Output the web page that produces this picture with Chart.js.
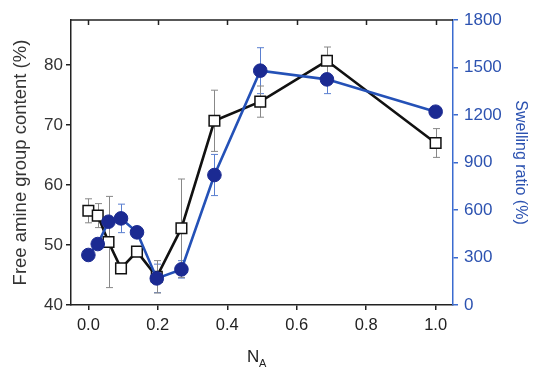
<!DOCTYPE html>
<html><head><meta charset="utf-8">
<script src="https://cdn.jsdelivr.net/npm/chart.js@4/dist/chart.umd.min.js"></script>
<style>html,body{margin:0;padding:0;background:#fff;}#wrap{width:536px;height:367px;position:relative;}</style>
</head><body><div id="wrap"><canvas id="c" width="536" height="367"></canvas></div>
<script>
// N_A values (x)
const NA = [0, 0.027, 0.058, 0.094, 0.14, 0.197, 0.268, 0.363, 0.495, 0.687, 1.0];
// Free amine group content (%) with error
const amine = [55.7, 54.9, 50.5, 46.1, 48.9, 44.7, 52.8, 70.7, 73.9, 80.7, 67.0];
const amineErr = [2.0, 2.0, 7.6, 0.4, 0.4, 2.7, 8.2, 5.1, 2.6, 2.3, 2.4];
// Swelling ratio (%) with error
const swelling = [316, 385, 526, 547, 459, 168, 225, 821, 1480, 1425, 1221];
const swellingErr = [0, 0, 0, 90, 0, 90, 55, 130, 145, 90, 0];
// tick labels
const xTicks = [0, 0.2, 0.4, 0.6, 0.8, 1.0];
const leftTicks = [40, 50, 60, 70, 80];
const rightTicks = [0, 300, 600, 900, 1200, 1500, 1800];

const FONT = "'Liberation Sans', Arial, sans-serif";
const BLUE_AX = '#3a6bd0';
const BLUE_TXT = '#2c52b0';

const pts = (xs, ys) => xs.map((x, i) => ({x: x, y: ys[i]}));

const errorBars = {
  id: 'errorBars',
  beforeDatasetsDraw(chart) {
    const ctx = chart.ctx;
    const xs = chart.scales.x;
    chart.data.datasets.forEach((ds) => {
      const ys = chart.scales[ds.yAxisID];
      ctx.save();
      ctx.strokeStyle = ds.errColor;
      ctx.lineWidth = 1;
      ds.data.forEach((p, i) => {
        const e = ds.errors[i];
        if (!e) return;
        const px = Math.round(xs.getPixelForValue(p.x)) + 0.5;
        const y1 = ys.getPixelForValue(p.y + e);
        const y2 = ys.getPixelForValue(p.y - e);
        ctx.beginPath();
        ctx.moveTo(px, y1); ctx.lineTo(px, y2);
        ctx.moveTo(px - 3.5, y1); ctx.lineTo(px + 3.5, y1);
        ctx.moveTo(px - 3.5, y2); ctx.lineTo(px + 3.5, y2);
        ctx.stroke();
      });
      ctx.restore();
    });
  }
};

const frame = {
  id: 'frame',
  afterDraw(chart) {
    const ctx = chart.ctx;
    const a = chart.chartArea;
    const xs = chart.scales.x;
    ctx.save();
    ctx.strokeStyle = '#222';
    ctx.lineWidth = 1.5;
    ctx.beginPath();
    ctx.moveTo(a.left, a.top); ctx.lineTo(a.right, a.top);
    xs.ticks.forEach(t => {
      const px = Math.round(xs.getPixelForValue(t.value)) + 0.5;
      ctx.moveTo(px, a.top); ctx.lineTo(px, a.top + 5);
    });
    ctx.stroke();
    // x-axis title N with subscript A
    ctx.fillStyle = '#222';
    ctx.textBaseline = 'alphabetic';
    ctx.textAlign = 'left';
    ctx.font = '17px ' + FONT;
    const nx = (a.left + a.right) / 2 - 15;
    ctx.fillText('N', nx, 362);
    ctx.font = '11px ' + FONT;
    ctx.fillText('A', nx + 12, 367);
    ctx.restore();
  }
};

new Chart(document.getElementById('c'), {
  type: 'line',
  data: {
    datasets: [
      {
        label: 'Swelling ratio (%)',
        data: pts(NA, swelling),
        errors: swellingErr,
        errColor: '#5a7fd0',
        yAxisID: 'y1',
        order: 0,
        borderColor: '#2451b7',
        borderWidth: 2.6,
        pointStyle: 'circle',
        pointRadius: 6.8,
        pointBackgroundColor: '#1b2a92',
        pointBorderColor: '#1b2a92',
        pointBorderWidth: 1,
        tension: 0,
        clip: false
      },
      {
        label: 'Free amine group content (%)',
        data: pts(NA, amine),
        errors: amineErr,
        errColor: '#888888',
        yAxisID: 'y',
        order: 1,
        borderColor: '#111111',
        borderWidth: 2.6,
        pointStyle: 'rect',
        pointRadius: 7.5,
        pointBackgroundColor: '#ffffff',
        pointBorderColor: '#111111',
        pointBorderWidth: 1.5,
        tension: 0,
        clip: false
      }
    ]
  },
  options: {
    responsive: false,
    animation: false,
    devicePixelRatio: 1,
    layout: {padding: {top: 20, left: 0, right: 0, bottom: 0}},
    plugins: {legend: {display: false}, tooltip: {enabled: false}},
    scales: {
      x: {
        type: 'linear', position: 'bottom', min: -0.05, max: 1.05,
        afterBuildTicks: s => { s.ticks = xTicks.map(v => ({value: v})); },
        afterFit: s => { s.height = 62; },
        ticks: {callback: v => Number(v).toFixed(1), color: '#222', font: {family: FONT, size: 16.5}, padding: 6, maxRotation: 0, autoSkip: false},
        grid: {drawOnChartArea: false, drawTicks: true, tickLength: 5, color: '#222', lineWidth: 1.5},
        border: {display: true, color: '#222', width: 1.5}
      },
      y: {
        type: 'linear', position: 'left', min: 40, max: 87.5,
        afterBuildTicks: s => { s.ticks = leftTicks.map(v => ({value: v})); },
        afterFit: s => { s.width = 71; },
        ticks: {callback: v => String(v), color: '#333', font: {family: FONT, size: 17}, padding: 3},
        grid: {drawOnChartArea: false, drawTicks: true, tickLength: 5, color: '#222', lineWidth: 1.5},
        border: {display: true, color: '#222', width: 1.5},
        title: {display: true, text: 'Free amine group content (%)', color: '#333', font: {family: FONT, size: 18.5}, padding: {top: 10, bottom: 0}}
      },
      y1: {
        type: 'linear', position: 'right', min: 0, max: 1800,
        afterBuildTicks: s => { s.ticks = rightTicks.map(v => ({value: v})); },
        afterFit: s => { s.width = 83; },
        ticks: {callback: v => String(v), color: BLUE_TXT, font: {family: FONT, size: 17}, padding: 6},
        grid: {drawOnChartArea: false, drawTicks: true, tickLength: 5, color: BLUE_AX, lineWidth: 1.5},
        border: {display: true, color: BLUE_AX, width: 1.5},
        title: {display: true, text: 'Swelling ratio (%)', color: BLUE_TXT, font: {family: FONT, size: 16}, padding: {top: 5.5, bottom: 0}}
      }
    }
  },
  plugins: [errorBars, frame]
});
</script>
</body></html>
